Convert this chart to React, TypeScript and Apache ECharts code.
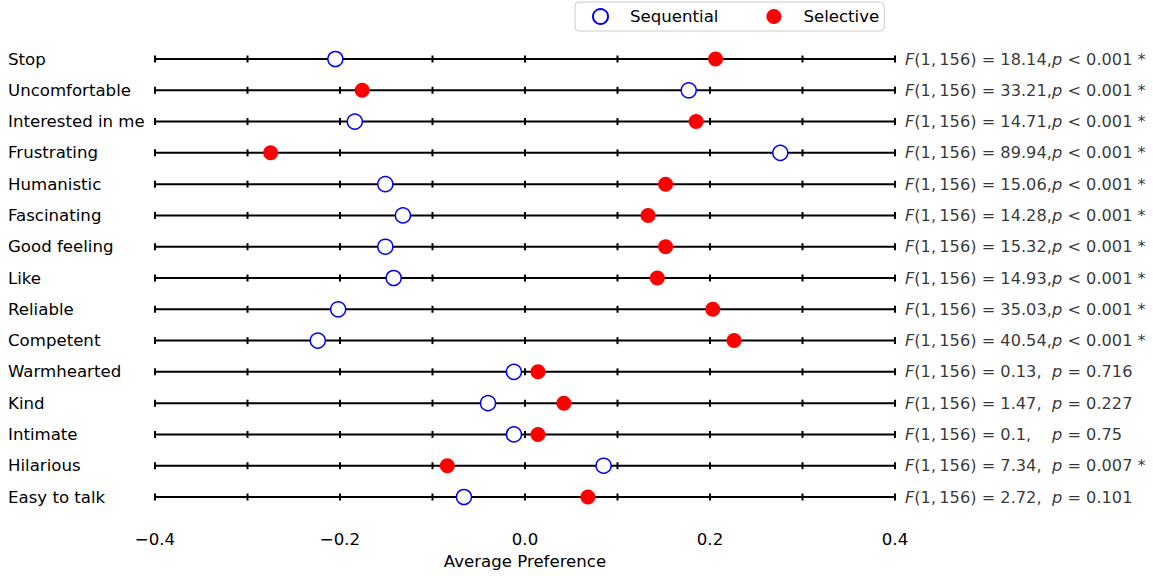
import React, { useEffect, useRef } from "react";
import * as echarts from "echarts";

const categories = [
  "Stop", "Uncomfortable", "Interested in me", "Frustrating", "Humanistic",
  "Fascinating", "Good feeling", "Like", "Reliable", "Competent",
  "Warmhearted", "Kind", "Intimate", "Hilarious", "Easy to talk",
];
const sequential = [-0.205, 0.177, -0.184, 0.276, -0.151, -0.132, -0.151, -0.142, -0.202, -0.224, -0.012, -0.04, -0.012, 0.085, -0.066];
const selective = [0.206, -0.176, 0.185, -0.275, 0.152, 0.133, 0.152, 0.143, 0.203, 0.226, 0.014, 0.042, 0.014, -0.084, 0.068];
const fValues = ["18.14", "33.21", "14.71", "89.94", "15.06", "14.28", "15.32", "14.93", "35.03", "40.54", "0.13", "1.47", "0.1", "7.34", "2.72"];
const pOps = ["<", "<", "<", "<", "<", "<", "<", "<", "<", "<", "=", "=", "=", "=", "="];
const pValues = ["0.001", "0.001", "0.001", "0.001", "0.001", "0.001", "0.001", "0.001", "0.001", "0.001", "0.716", "0.227", "0.75", "0.007", "0.101"];
const significant = [true, true, true, true, true, true, true, true, true, true, false, false, false, true, false];
const rowTicks = [-0.4, -0.3, -0.2, -0.1, 0, 0.1, 0.2, 0.3, 0.4];
const xMin = -0.4;
const xMax = 0.4;

const FONT = "DejaVu Sans";
const FS = 16.6;
const FS_STAT = 16.2;

export default function App() {
  const ref = useRef<HTMLDivElement>(null);
  useEffect(() => {
    document.body.style.margin = "0";
    const chart = echarts.init(ref.current!, null, { renderer: "svg" });
    const option: any = {
      animation: false,
      backgroundColor: "#fff",
      textStyle: { fontFamily: FONT, color: "#000" },
      legend: {
        top: 2,
        left: 575,
        orient: "horizontal",
        itemWidth: 15,
        itemHeight: 15,
        itemGap: 48,
        padding: [6, 5, 6, 17],
        borderColor: "#cccccc",
        borderWidth: 1,
        borderRadius: 4,
        textStyle: { fontFamily: FONT, fontSize: FS, color: "#000", padding: [0, 0, 0, 17] },
        data: ["Sequential", "Selective"],
      },
      grid: { left: 155, right: 258, top: 59, bottom: 79 },
      xAxis: {
        type: "value",
        min: xMin,
        max: xMax,
        interval: 0.2,
        splitLine: { show: false },
        axisLine: { show: false },
        axisTick: { show: false },
        axisLabel: {
          margin: 34,
          fontSize: FS,
          fontFamily: FONT,
          color: "#000",
          formatter: (v: number) => v.toFixed(1).replace("-", "\u2212"),
        },
        name: "Average Preference",
        nameLocation: "middle",
        nameGap: 55,
        nameTextStyle: { fontSize: FS, fontFamily: FONT, color: "#000" },
      },
      yAxis: {
        type: "category",
        data: categories,
        inverse: true,
        boundaryGap: false,
        axisLine: { show: false },
        axisTick: { show: false },
        splitLine: { show: false },
        axisLabel: {
          align: "left",
          margin: 147,
          fontSize: FS,
          fontFamily: FONT,
          color: "#000",
        },
      },
      series: [
        {
          type: "custom",
          name: "rows",
          silent: true,
          z: 1,
          data: categories.map((c, i) => [xMin, xMax, i]),
          encode: { x: [0, 1], y: 2 },
          renderItem: (params: any, api: any) => {
            const yi = api.value(2);
            const p0 = api.coord([api.value(0), yi]);
            const p1 = api.coord([api.value(1), yi]);
            const children: any[] = [
              {
                type: "line",
                shape: { x1: p0[0], y1: p0[1], x2: p1[0], y2: p1[1] },
                style: { stroke: "#000", lineWidth: 2 },
              },
            ];
            rowTicks.forEach((t) => {
              const p = api.coord([t, yi]);
              children.push({
                type: "line",
                shape: { x1: p[0], y1: p[1] - 3.5, x2: p[0], y2: p[1] + 3.5 },
                style: { stroke: "#000", lineWidth: 2 },
              });
            });
            return { type: "group", children };
          },
        },
        {
          type: "scatter",
          name: "Sequential",
          z: 3,
          symbol: "circle",
          symbolSize: 15,
          itemStyle: { color: "#ffffff", borderColor: "#0000ff", borderWidth: 1.5, opacity: 1 },
          data: sequential.map((v, i) => [v, categories[i]]),
        },
        {
          type: "scatter",
          name: "Selective",
          z: 4,
          symbol: "circle",
          symbolSize: 15,
          itemStyle: { color: "#ff0000", opacity: 1 },
          data: selective.map((v, i) => [v, categories[i]]),
        },
        {
          type: "scatter",
          name: "fText",
          silent: true,
          symbolSize: 0,
          data: categories.map((c) => [xMax, c]),
          label: {
            show: true,
            position: "right",
            distance: 10,
            fontFamily: FONT,
            fontSize: FS_STAT,
            color: "#000",
            formatter: (p: any) => `{i|F}(1,\u2009156) = ${fValues[p.dataIndex]},`,
            rich: { i: { fontStyle: "italic", fontFamily: FONT, fontSize: FS_STAT, color: "#000" } },
          },
        },
        {
          type: "scatter",
          name: "pText",
          silent: true,
          symbolSize: 0,
          data: categories.map((c) => [xMax, c]),
          label: {
            show: true,
            position: "right",
            distance: 157,
            fontFamily: FONT,
            fontSize: FS_STAT,
            color: "#000",
            formatter: (p: any) => {
              const i = p.dataIndex;
              return `{i|p} ${pOps[i]} ${pValues[i]}${significant[i] ? " *" : ""}`;
            },
            rich: { i: { fontStyle: "italic", fontFamily: FONT, fontSize: FS_STAT, color: "#000" } },
          },
        },
      ],
    };
    chart.setOption(option);
    return () => chart.dispose();
  }, []);
  return <div ref={ref} style={{ width: 1153, height: 576 }} />;
}
